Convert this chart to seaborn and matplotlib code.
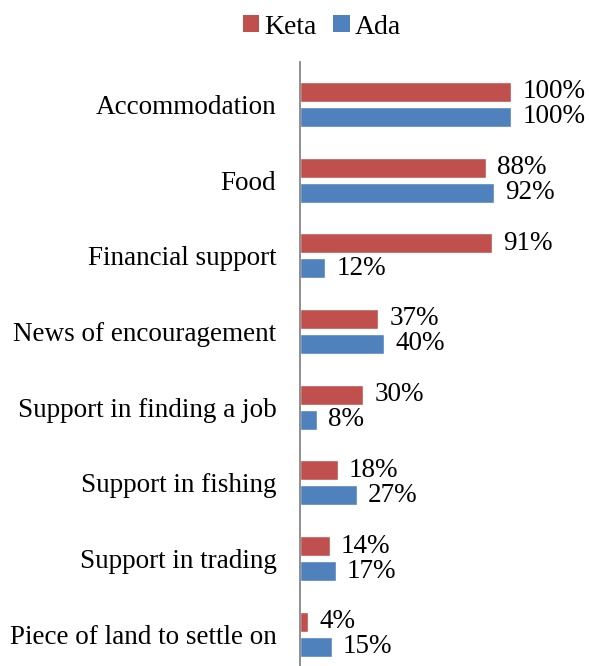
import matplotlib
matplotlib.use("Agg")
import matplotlib.pyplot as plt
import seaborn as sns
import pandas as pd
from matplotlib.patches import Patch

categories = [
    "Accommodation",
    "Food",
    "Financial support",
    "News of encouragement",
    "Support in finding a job",
    "Support in fishing",
    "Support in trading",
    "Piece of land to settle on",
]
keta = [100, 88, 91, 37, 30, 18, 14, 4]
ada = [100, 92, 12, 40, 8, 27, 17, 15]
series = ["Keta", "Ada"]
colors = {"Keta": "#C0504D", "Ada": "#4F81BD"}

df = pd.DataFrame({
    "category": categories * 2,
    "value": keta + ada,
    "region": ["Keta"] * len(keta) + ["Ada"] * len(ada),
})

sns.set_theme(style="white")
plt.rcParams["font.family"] = ["Liberation Serif", "DejaVu Serif"]
plt.rcParams["text.color"] = "black"

W, H = 589, 666
fig = plt.figure(figsize=(W / 100, H / 100), dpi=100)
left_px, top_px = 300, 62
ax = fig.add_axes([left_px / W, 0, (W - left_px) / W, (H - top_px) / H])

sns.barplot(data=df, y="category", x="value", hue="region", orient="h",
            order=categories, hue_order=series, palette=colors,
            width=0.66, gap=0.2, saturation=1, ax=ax, legend=False)

for cont in ax.containers:
    ax.bar_label(cont, fmt="%g%%", padding=8, fontsize=19.5, color="black")

ax.set_xlim(0, (W - left_px) / 2.11)
ax.set_ylim(7.42, -0.56)
ax.set_xlabel("")
ax.set_ylabel("")
ax.set_xticks([])
ax.tick_params(axis="y", length=0, pad=17, labelsize=19.5, labelcolor="black")
for side in ["top", "right", "bottom"]:
    ax.spines[side].set_visible(False)
ax.spines["left"].set_color("#868686")
ax.spines["left"].set_linewidth(1.3)

handles = [Patch(facecolor=colors[s], edgecolor="none", label=s) for s in series]
leg = fig.legend(handles=handles, loc="center", bbox_to_anchor=(322 / W, 1 - 27 / H),
                 ncol=2, frameon=False, fontsize=20, handlelength=0.58,
                 handleheight=0.58, handletextpad=0.18, columnspacing=0.6,
                 borderaxespad=0, borderpad=0)
for t in leg.get_texts():
    t.set_color("black")

fig.savefig("out.png", dpi=100)
